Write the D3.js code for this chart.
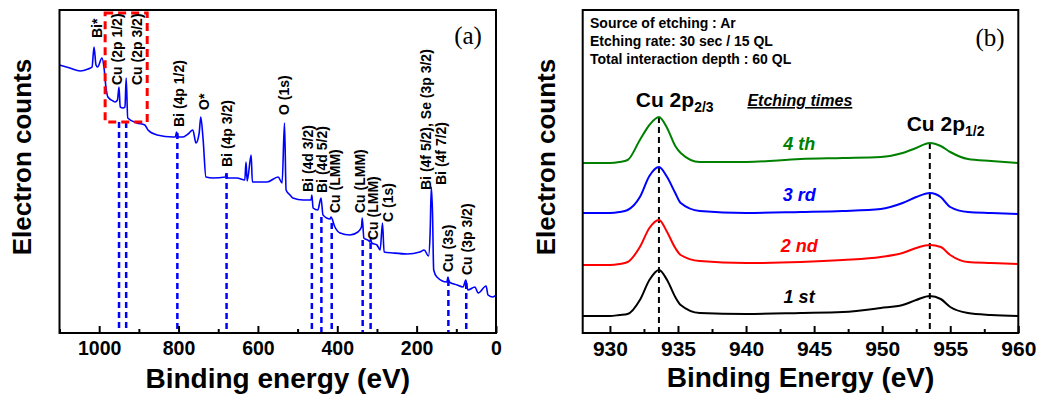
<!DOCTYPE html>
<html>
<head>
<meta charset="utf-8">
<script src="https://cdn.jsdelivr.net/npm/d3@7"></script>
<style>
  body { margin: 0; background: #fff; }
  text { font-family: Arial, "Liberation Sans", sans-serif; }
</style>
</head>
<body>
<div id="chart"></div>
<script>
// ---- panel (a): XPS survey spectrum ----
const surveyEnergy = [1100, 1074, 1048, 1028, 1018, 1013, 1008, 1004, 993, 988, 983, 978, 965, 960, 954, 950, 947, 940, 935, 932, 928,
  905, 885, 877, 854, 814, 808, 805, 801, 789, 776, 764, 756, 748, 744, 738, 731, 713, 682, 680, 677, 653, 633, 630, 627, 617, 614,
  577, 549, 539, 533, 529, 519, 512, 486, 466, 464, 461, 449, 441, 436, 418, 416, 406, 393, 368, 348, 339, 337, 333, 320, 318, 316,
  313, 300, 292, 286, 282, 260, 224, 192, 181, 170, 166, 163, 160, 157, 149, 124, 121, 118, 98, 83, 76, 71, 53, 45, 25, 20, 8, 0];
const surveyCounts = [268, 265, 262, 264, 266, 286, 268, 266, 275, 266, 246, 236, 232, 231, 233, 246, 226, 225, 226, 255, 215,
  210, 208, 203, 198, 196, 196, 201, 196, 196, 199, 203, 190, 200, 216, 193, 156, 155, 156, 159, 155, 155, 153, 171, 152, 178, 151,
  151, 156, 150, 210, 143, 138, 135, 133, 133, 138, 125, 123, 135, 118, 114, 116, 106, 100, 98, 101, 106, 115, 95, 92, 91, 94,
  90, 88, 83, 110, 81, 80, 79, 81, 83, 77, 100, 146, 120, 63, 56, 51, 56, 51, 48, 46, 53, 43, 46, 40, 47, 38, 36, 38];

// peak markers (dashed lines): energy and top of the line
const markerEnergy = [950, 932, 803, 679, 464, 440, 414, 336, 316, 120, 75];
const markerTop = [211, 211, 200, 160, 120, 116, 110, 93, 90, 53, 50];

// peak labels
const peakLabels = ["Bi*", "Cu (2p 1/2)", "Cu (2p 3/2)", "Bi (4p 1/2)", "O*", "Bi (4p 3/2)", "O (1s)",
  "Bi (4d 3/2)", "Bi (4d 5/2)", "Cu (LMM)", "Cu (LMM)", "Cu (LMM)", "C (1s)",
  "Bi (4f 5/2), Se (3p 3/2)", "Bi (4f 7/2)", "Cu (3s)", "Cu (3p 3/2)"];
const peakLabelEnergy = [1005, 956, 905, 800, 736, 678, 534, 474, 439, 406, 343, 310, 272, 176, 139, 121, 73];
const peakLabelHeight = [295, 248, 248, 206, 223, 166, 218, 141, 140, 120, 120, 93, 111, 143, 148, 61, 58];

// highlighted Cu 2p region
const boxEnergy = [985, 879];
const boxCounts = [211, 320];

const surveyTicks = [0, 200, 400, 600, 800, 1000];
const surveyMinorTicks = [100, 300, 500, 700, 900, 1100];

// ---- panel (b): Cu 2p with etching ----
const cuEnergy = [928, 930, 930.7, 931.3, 932.2, 932.9, 933.6, 934.2, 934.8, 935.2, 936.6, 940, 944, 947.1, 949.9, 951.5, 952.5, 953.5, 954.3, 955, 956.3, 958, 960];
const etch1st = [17, 17, 18, 19, 33, 53, 63, 53, 36, 28, 20, 19, 20, 21, 25, 28, 33, 37, 34, 26, 20, 18, 17];
const etch2nd = [68, 68, 69, 71, 86, 105, 113, 101, 85, 78, 72, 70, 71, 73, 76, 80, 85, 88, 86, 78, 71, 70, 69];
const etch3rd = [120, 120, 121, 123, 136, 157, 166, 156, 140, 130, 122, 120, 121, 122, 124, 130, 136, 140, 136, 126, 121, 120, 119];
const etch4th = [170, 170, 171, 173, 193, 208, 216, 205, 187, 180, 171, 171, 174, 175, 176, 180, 185, 190, 187, 181, 174, 172, 170];
const etchNames = ["1 st", "2 nd", "3 rd", "4 th"];
const etchColors = ["#000000", "#ff0000", "#0000ff", "#008000"];
const etchLabelHeight = [30, 81, 132, 183];
const etchLabelEnergy = 943.9;

const cuPeakEnergy = [933.6, 953.5];
const cuPeakTop = [216, 190];

const cuTicks = [930, 935, 940, 945, 950, 955, 960];
const cuMinorTicks = [932.5, 937.5, 942.5, 947.5, 952.5, 957.5];

const infoLines = ["Source of etching : Ar", "Etching rate: 30 sec / 15 QL", "Total interaction depth : 60 QL"];

// ---- layout ----
const width = 1039, height = 399;
const plotTop = 10, plotBottom = 333;

const svg = d3.select("#chart").append("svg")
  .attr("width", width)
  .attr("height", height)
  .style("display", "block");

svg.append("rect").attr("width", width).attr("height", height).attr("fill", "#fff");

// scales
const xL = d3.scaleLinear().domain([1100, 0]).range([59.5, 496]);
const yL = d3.scaleLinear().domain([0, 323]).range([plotBottom, plotTop]);
const xR = d3.scaleLinear().domain([928, 960]).range([582.7, 1018.3]);
const yR = d3.scaleLinear().domain([0, 323]).range([plotBottom, plotTop]);

function drawAxes(x, ticks, minor, fontSize, pad) {
  const g = svg.append("g").attr("transform", `translate(0,${plotBottom})`);
  g.call(d3.axisBottom(x).tickValues(ticks).tickSize(-7).tickPadding(pad).tickFormat(d3.format("d")));
  g.select(".domain").remove();
  g.selectAll(".tick line").attr("stroke", "#000").attr("stroke-width", 2);
  g.selectAll(".tick text")
    .attr("font-family", "Arial, 'Liberation Sans', sans-serif")
    .attr("font-size", fontSize)
    .attr("font-weight", "bold")
    .attr("fill", "#000");
  const m = svg.append("g").attr("transform", `translate(0,${plotBottom})`);
  m.call(d3.axisBottom(x).tickValues(minor).tickSize(-4).tickFormat(""));
  m.select(".domain").remove();
  m.selectAll(".tick line").attr("stroke", "#000").attr("stroke-width", 2);
  // frame
  svg.append("rect")
    .attr("x", x.range()[0]).attr("y", plotTop)
    .attr("width", x.range()[1] - x.range()[0]).attr("height", plotBottom - plotTop)
    .attr("fill", "none").attr("stroke", "#000").attr("stroke-width", 2);
}

// ===== panel (a) =====
const surveyLine = d3.line()
  .x((d, i) => xL(surveyEnergy[i]))
  .y(d => yL(d))
  .curve(d3.curveMonotoneX);

svg.selectAll(".marker")
  .data(markerEnergy)
  .enter().append("line")
  .attr("x1", d => xL(d)).attr("x2", d => xL(d))
  .attr("y1", (d, i) => yL(markerTop[i])).attr("y2", yL(0))
  .attr("stroke", "#0000ff").attr("stroke-width", 2.5)
  .attr("stroke-dasharray", "6,4");

svg.append("path")
  .datum(surveyCounts)
  .attr("d", surveyLine)
  .attr("fill", "none")
  .attr("stroke", "#0000ff")
  .attr("stroke-width", 1.6);

svg.append("rect")
  .attr("x", xL(boxEnergy[0])).attr("y", yL(boxCounts[1]))
  .attr("width", xL(boxEnergy[1]) - xL(boxEnergy[0]))
  .attr("height", yL(boxCounts[0]) - yL(boxCounts[1]))
  .attr("fill", "none").attr("stroke", "#ff0000").attr("stroke-width", 3)
  .attr("stroke-dasharray", "8,5");

svg.selectAll(".peakLabel")
  .data(peakLabels)
  .enter().append("text")
  .attr("transform", (d, i) => `translate(${xL(peakLabelEnergy[i])},${yL(peakLabelHeight[i])}) rotate(-90)`)
  .attr("dy", "0.36em")
  .attr("font-size", 14)
  .attr("font-weight", "bold")
  .text(d => d);

drawAxes(xL, surveyTicks, surveyMinorTicks, 19.5, 8);

svg.append("text")
  .attr("x", 468).attr("y", 44)
  .attr("text-anchor", "middle")
  .style("font-family", "'Liberation Serif', 'Times New Roman', serif")
  .attr("font-size", 25)
  .text("(a)");

svg.append("text")
  .attr("x", (xL.range()[0] + xL.range()[1]) / 2).attr("y", 388)
  .attr("text-anchor", "middle")
  .attr("font-size", 28).attr("font-weight", "bold")
  .text("Binding energy (eV)");

svg.append("text")
  .attr("transform", "translate(22,157) rotate(-90)")
  .attr("dy", "0.36em")
  .attr("text-anchor", "middle")
  .attr("font-size", 26).attr("font-weight", "bold")
  .text("Electron counts");

// ===== panel (b) =====
const series = [etch1st, etch2nd, etch3rd, etch4th];
const cuLine = d3.line()
  .x((d, i) => xR(cuEnergy[i]))
  .y(d => yR(d))
  .curve(d3.curveMonotoneX);

svg.selectAll(".cuPeak")
  .data(cuPeakEnergy)
  .enter().append("line")
  .attr("x1", d => xR(d)).attr("x2", d => xR(d))
  .attr("y1", (d, i) => yR(cuPeakTop[i])).attr("y2", yR(0))
  .attr("stroke", "#000").attr("stroke-width", 2)
  .attr("stroke-dasharray", "6,4");

svg.selectAll(".etch")
  .data(series)
  .enter().append("path")
  .attr("d", cuLine)
  .attr("fill", "none")
  .attr("stroke", (d, i) => etchColors[i])
  .attr("stroke-width", 2);

svg.selectAll(".etchLabel")
  .data(etchNames)
  .enter().append("text")
  .attr("x", xR(etchLabelEnergy))
  .attr("y", (d, i) => yR(etchLabelHeight[i]))
  .attr("text-anchor", "middle")
  .attr("font-size", 18).attr("font-weight", "bold").attr("font-style", "italic")
  .attr("fill", (d, i) => etchColors[i])
  .text(d => d);

svg.append("text")
  .attr("x", xR(940.1)).attr("y", yR(227))
  .attr("font-size", 16).attr("font-weight", "bold").attr("font-style", "italic")
  .attr("text-decoration", "underline")
  .text("Etching times");

const p1 = svg.append("text").attr("x", xR(931.9)).attr("y", yR(226))
  .attr("font-size", 21).attr("font-weight", "bold");
p1.append("tspan").text("Cu 2p");
p1.append("tspan").attr("font-size", 14).attr("dy", 5).text("2/3");

const p2 = svg.append("text").attr("x", xR(951.8)).attr("y", yR(202))
  .attr("font-size", 21).attr("font-weight", "bold");
p2.append("tspan").text("Cu 2p");
p2.append("tspan").attr("font-size", 14).attr("dy", 5).text("1/2");

svg.selectAll(".info")
  .data(infoLines)
  .enter().append("text")
  .attr("x", 590)
  .attr("y", (d, i) => 28 + i * 18)
  .attr("font-size", 14).attr("font-weight", "bold")
  .text(d => d);

drawAxes(xR, cuTicks, cuMinorTicks, 21, 8);

svg.append("text")
  .attr("x", 990).attr("y", 46)
  .attr("text-anchor", "middle")
  .style("font-family", "'Liberation Serif', 'Times New Roman', serif")
  .attr("font-size", 25)
  .text("(b)");

svg.append("text")
  .attr("x", (xR.range()[0] + xR.range()[1]) / 2).attr("y", 387)
  .attr("text-anchor", "middle")
  .attr("font-size", 28).attr("font-weight", "bold")
  .text("Binding Energy (eV)");

svg.append("text")
  .attr("transform", "translate(546,157) rotate(-90)")
  .attr("dy", "0.36em")
  .attr("text-anchor", "middle")
  .attr("font-size", 26).attr("font-weight", "bold")
  .text("Electron counts");
</script>
</body>
</html>
